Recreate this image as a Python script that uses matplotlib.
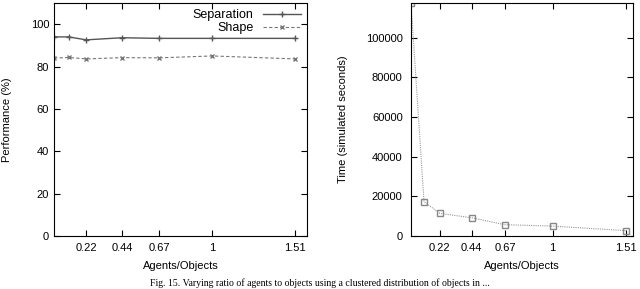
import numpy as np
import matplotlib
matplotlib.use("Agg")
import matplotlib.pyplot as plt

# data
ratio = [0.02, 0.11, 0.22, 0.44, 0.67, 1.0, 1.51]
separation = [94.0, 94.0, 92.6, 93.6, 93.3, 93.3, 93.3]
shape = [84.0, 84.3, 83.6, 84.2, 84.1, 85.0, 83.6]
time_sec = [117500, 17300, 11400, 9200, 5700, 5000, 2700]
xtick_vals = [0.22, 0.44, 0.67, 1.0, 1.51]
xtick_labels = ["0.22", "0.44", "0.67", "1", "1.51"]

plt.rcParams['font.family'] = ['Liberation Sans', 'DejaVu Sans']
plt.rcParams['font.size'] = 8

fig = plt.figure(figsize=(6.4, 2.89), dpi=100)
ax1 = fig.add_axes([54 / 640, 1 - 236 / 289, 253 / 640, 233 / 289])
ax2 = fig.add_axes([411 / 640, 1 - 236 / 289, 222 / 640, 233 / 289])

# left: performance
ax1.plot(ratio, separation, color="#555555", lw=1.0, marker="+", ms=4,
         label="Separation")
ax1.plot(ratio, shape, color="#777777", lw=0.8, ls=(0, (3, 2)), marker="x",
         ms=3.5, label="Shape")
ax1.set_xlim(0.02, 1.585)
ax1.set_ylim(0, 110)
ax1.set_yticks(range(0, 101, 20))
ax1.set_ylabel("Performance (%)")
ax1.yaxis.set_label_coords(-0.167, 0.5)
ax1.set_xlabel("Agents/Objects")
leg = ax1.legend(loc="upper right", frameon=False, markerfirst=False,
                 handlelength=3.0, borderaxespad=0.1, labelspacing=0.1,
                 fontsize=9)
for t in leg.get_texts():
    t.set_ha("right")

# right: time
ax2.plot(ratio, time_sec, color="#999999", lw=0.8, ls=(0, (1, 1)),
         marker="s", ms=4, mfc="none", mec="#888888")
ax2.set_xlim(0.02, 1.557)
ax2.set_ylim(0, 117500)
ax2.set_yticks(range(0, 100001, 20000))
ax2.set_ylabel("Time (simulated seconds)")
ax2.yaxis.set_label_coords(-0.285, 0.5)
ax2.set_xlabel("Agents/Objects")
ax2.tick_params(axis="y", pad=6)

for ax in (ax1, ax2):
    ax.set_xticks(xtick_vals)
    ax.set_xticklabels(xtick_labels)
    ax.tick_params(direction="in", top=True, right=True, length=4,
                   width=0.8, labelsize=8)
    ax.tick_params(axis="x", pad=5)
    ax.xaxis.labelpad = 6
    for s in ax.spines.values():
        s.set_linewidth(0.8)

fig.text(0.5, 0.002, "Fig. 15. Varying ratio of agents to objects using a clustered distribution of objects in ...",
         ha="center", va="bottom", fontsize=7, family="Liberation Serif")

fig.savefig("out.png", dpi=100)
